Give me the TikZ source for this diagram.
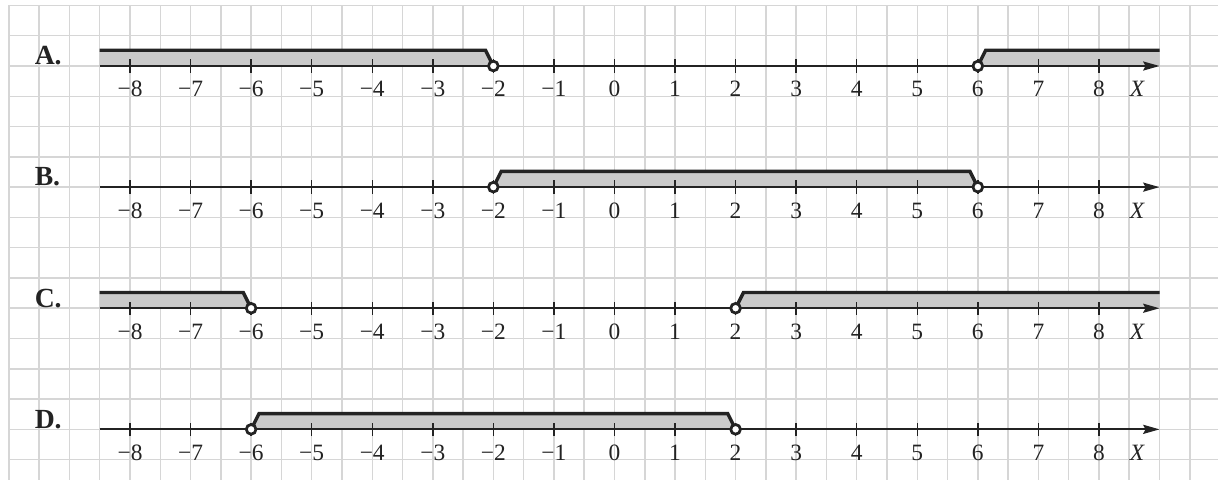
\documentclass[tikz,border=0pt]{standalone}
\usepackage{fontspec}
\setmainfont{Liberation Serif}
\usetikzlibrary{arrows.meta}
\definecolor{gridc}{RGB}{214,214,214}
\definecolor{bandc}{RGB}{202,202,202}
\definecolor{ink}{RGB}{35,35,35}
\tikzset{
  gridline/.style={gridc, line width=0.7pt},
  axisline/.style={ink, line width=0.9pt, -{Stealth[length=0.27cm,width=0.15cm,inset=0.04cm]}},
  boundline/.style={ink, line width=1.6pt, line join=miter},
  bandfill/.style={fill=bandc},
  hole/.style={circle, draw=ink, fill=white, line width=1.3pt, inner sep=0pt, minimum size=0.16cm},
  tickmark/.style={ink, line width=0.7pt},
  numlab/.style={font=\fontsize{11}{13}\selectfont, anchor=base, inner sep=0pt, text=ink},
  rowlab/.style={font=\fontsize{13}{15}\selectfont\bfseries, anchor=base west, inner sep=0pt, text=ink},
}
% left ray: #1 y, #2 end point, #3 name
\newcommand\myLeftRay[3]{%
  \fill[bandfill] (-8.5,#1) -- (-8.5,#1+0.26) -- (#2-0.13,#1+0.26) -- (#2,#1) -- cycle;
}
\newcommand\myLeftRayLine[3]{%
  \draw[boundline] (-8.5,#1+0.26) -- (#2-0.13,#1+0.26) -- (#2-0.02,#1+0.04);
  \node[hole] (#3) at (#2,#1) {};
}
\newcommand\myRightRay[3]{%
  \fill[bandfill] (#2,#1) -- (#2+0.13,#1+0.26) -- (9,#1+0.26) -- (9,#1) -- cycle;
}
\newcommand\myRightRayLine[3]{%
  \draw[boundline] (#2+0.02,#1+0.04) -- (#2+0.13,#1+0.26) -- (9,#1+0.26);
  \node[hole] (#3) at (#2,#1) {};
}
\newcommand\mySeg[4]{%
  \fill[bandfill] (#2,#1) -- (#2+0.13,#1+0.26) -- (#3-0.13,#1+0.26) -- (#3,#1) -- cycle;
}
\newcommand\mySegLine[4]{%
  \draw[boundline] (#2+0.02,#1+0.04) -- (#2+0.13,#1+0.26) -- (#3-0.13,#1+0.26) -- (#3-0.02,#1+0.04);
  \node[hole] (#4a) at (#2,#1) {};
  \node[hole] (#4b) at (#3,#1) {};
}
% axis with ticks and labels: #1 y, #2 letter
\newcommand\myAxis[2]{%
  \coordinate (s#2) at (-8.5,#1);
  \coordinate (e#2) at (9,#1);
  \draw[axisline] (s#2) -- (e#2);
  \foreach \k in {-8,...,8} {
    \draw[tickmark] (\k,#1-0.11) -- (\k,#1+0.11);
    \pgfmathtruncatemacro\ak{abs(\k)}
    \node[numlab] (n#2\k) at (\k,#1-0.51) {\ifnum\k<0 −\ak\else\ak\fi};
  }
  \node[numlab] (x#2) at (8.63,#1-0.51) {\itshape X};
  \node[rowlab] (l#2) at (-9.58,#1+0.02) {#2.};
}
\begin{document}
\begin{tikzpicture}[x=1cm,y=1cm]
\useasboundingbox (-10.147,-6.820) rectangle (9.966,1.090);
\begin{scope}
\clip (-10.147,-6.820) rectangle (9.966,1.090);
\draw[gridline] (-10,-7) grid[step=0.5] (10.5,1);
\end{scope}
% A
\myLeftRay{0}{-2}{hA1}
\myRightRay{0}{6}{hA2}
\myAxis{0}{A}
\myLeftRayLine{0}{-2}{hA1}
\myRightRayLine{0}{6}{hA2}
% B
\mySeg{-2}{-2}{6}{hB}
\myAxis{-2}{B}
\mySegLine{-2}{-2}{6}{hB}
% C
\myLeftRay{-4}{-6}{hC1}
\myRightRay{-4}{2}{hC2}
\myAxis{-4}{C}
\myLeftRayLine{-4}{-6}{hC1}
\myRightRayLine{-4}{2}{hC2}
% D
\mySeg{-6}{-6}{2}{hD}
\myAxis{-6}{D}
\mySegLine{-6}{-6}{2}{hD}
\end{tikzpicture}
\end{document}
